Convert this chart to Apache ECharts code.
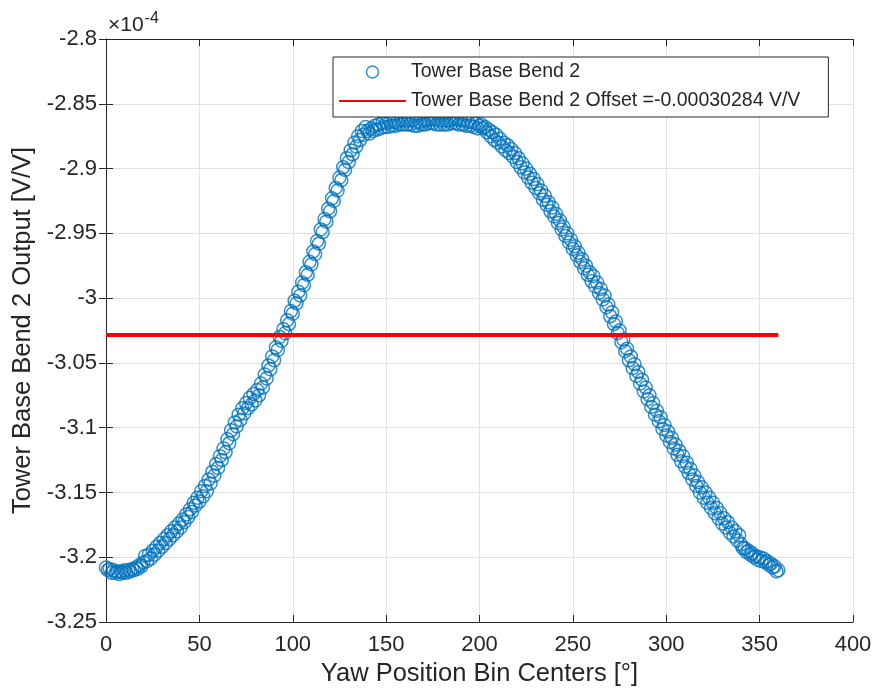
<!DOCTYPE html>
<html lang="en">
<head>
    <meta charset="UTF-8">
    <title>Tower Base Bend 2</title>
    <script src="https://cdn.jsdelivr.net/npm/echarts@6/dist/echarts.min.js"></script>
    <style>
        html, body { margin: 0; padding: 0; background: #fff; }
        #chart { width: 877px; height: 695px; }
    </style>
</head>
<body>
    <div id="chart"></div>
    <script>
        // yaw bin centers [deg], even bins
        const binsA = [
            0, 2, 4, 6, 8, 10, 12, 14, 16, 18,
            20, 22, 24, 26, 28, 30, 32, 34, 36, 38,
            40, 42, 44, 46, 48, 50, 52, 54, 56, 58,
            60, 62, 64, 66, 68, 70, 72, 74, 76, 78,
            80, 82, 84, 86, 88, 90, 92, 94, 96, 98,
            100, 102, 104, 106, 108, 110, 112, 114, 116, 118,
            120, 122, 124, 126, 128, 130, 132, 134, 136, 138,
            140, 142, 144, 146, 148, 150, 152, 154, 156, 158,
            160, 162, 164, 166, 168, 170, 172, 174, 176, 178,
            180, 182, 184, 186, 188, 190, 192, 194, 196, 198,
            200, 202, 204, 206, 208, 210, 212, 214, 216, 218,
            220, 222, 224, 226, 228, 230, 232, 234, 236, 238,
            240, 242, 244, 246, 248, 250, 252, 254, 256, 258,
            260, 262, 264, 266, 268, 270, 272, 274, 276, 278,
            280, 282, 284, 286, 288, 290, 292, 294, 296, 298,
            300, 302, 304, 306, 308, 310, 312, 314, 316, 318,
            320, 322, 324, 326, 328, 330, 332, 334, 336, 338,
            340, 342, 344, 346, 348, 350, 352, 354, 356, 358,
            360
        ];

        // bend 2 output at the even bins, units of 1e-4 V/V
        const outputA = [
            -3.208, -3.209, -3.210, -3.211, -3.211, -3.210, -3.210, -3.209, -3.208, -3.206,
            -3.204, -3.203, -3.201, -3.198, -3.195, -3.192, -3.189, -3.186, -3.183, -3.180,
            -3.177, -3.173, -3.169, -3.165, -3.160, -3.157, -3.153, -3.149, -3.143, -3.137,
            -3.131, -3.125, -3.119, -3.112, -3.105, -3.099, -3.094, -3.089, -3.085, -3.082,
            -3.079, -3.075, -3.069, -3.062, -3.055, -3.048, -3.040, -3.033, -3.027, -3.020,
            -3.012, -3.004, -2.998, -2.990, -2.982, -2.974, -2.966, -2.958, -2.949, -2.941,
            -2.933, -2.925, -2.917, -2.909, -2.901, -2.895, -2.889, -2.883, -2.878, -2.874,
            -2.871, -2.869, -2.867, -2.866, -2.865, -2.865, -2.864, -2.864, -2.864, -2.863,
            -2.863, -2.863, -2.863, -2.864, -2.864, -2.863, -2.863, -2.862, -2.862, -2.863,
            -2.863, -2.863, -2.863, -2.862, -2.862, -2.863, -2.863, -2.864, -2.864, -2.865,
            -2.867, -2.869, -2.872, -2.875, -2.878, -2.880, -2.883, -2.886, -2.888, -2.891,
            -2.895, -2.899, -2.903, -2.907, -2.911, -2.915, -2.919, -2.924, -2.928, -2.933,
            -2.937, -2.942, -2.947, -2.952, -2.957, -2.962, -2.967, -2.972, -2.977, -2.982,
            -2.987, -2.991, -2.996, -3.001, -3.007, -3.014, -3.020, -3.027, -3.034, -3.041,
            -3.048, -3.054, -3.060, -3.066, -3.072, -3.078, -3.084, -3.090, -3.095, -3.101,
            -3.106, -3.111, -3.116, -3.121, -3.126, -3.130, -3.135, -3.140, -3.145, -3.150,
            -3.154, -3.158, -3.162, -3.166, -3.170, -3.174, -3.177, -3.181, -3.184, -3.187,
            -3.190, -3.193, -3.195, -3.197, -3.199, -3.200, -3.201, -3.203, -3.205, -3.207,
            -3.210
        ];

        // odd bins (second row of rings in the band)
        const binsB = [
            1, 3, 5, 7, 9, 11, 13, 15, 17, 19,
            21, 23, 25, 27, 29, 31, 33, 35, 37, 39,
            41, 43, 45, 47, 49, 51, 53, 55, 57, 59,
            61, 63, 65, 67, 69, 71, 73, 75, 77, 79,
            81, 83, 85, 87, 89, 91, 93, 95, 97, 99,
            101, 103, 105, 107, 109, 111, 113, 115, 117, 119,
            121, 123, 125, 127, 129, 131, 133, 135, 137, 139,
            141, 143, 145, 147, 149, 151, 153, 155, 157, 159,
            161, 163, 165, 167, 169, 171, 173, 175, 177, 179,
            181, 183, 185, 187, 189, 191, 193, 195, 197, 199,
            201, 203, 205, 207, 209, 211, 213, 215, 217, 219,
            221, 223, 225, 227, 229, 231, 233, 235, 237, 239,
            241, 243, 245, 247, 249, 251, 253, 255, 257, 259,
            261, 263, 265, 267, 269, 271, 273, 275, 277, 279,
            281, 283, 285, 287, 289, 291, 293, 295, 297, 299,
            301, 303, 305, 307, 309, 311, 313, 315, 317, 319,
            321, 323, 325, 327, 329, 331, 333, 335, 337, 339,
            341, 343, 345, 347, 349, 351, 353, 355, 357, 359
        ];

        const outputB = [
            -3.210, -3.212, -3.212, -3.213, -3.212, -3.212, -3.211, -3.210, -3.209, -3.207,
            -3.199, -3.198, -3.195, -3.192, -3.189, -3.186, -3.183, -3.180, -3.177, -3.174,
            -3.171, -3.167, -3.163, -3.158, -3.154, -3.149, -3.145, -3.140, -3.134, -3.128,
            -3.122, -3.116, -3.109, -3.102, -3.096, -3.090, -3.085, -3.081, -3.077, -3.074,
            -3.071, -3.066, -3.059, -3.052, -3.045, -3.038, -3.030, -3.024, -3.017, -3.010,
            -3.002, -2.995, -2.988, -2.980, -2.972, -2.964, -2.956, -2.947, -2.939, -2.931,
            -2.923, -2.915, -2.907, -2.899, -2.892, -2.886, -2.880, -2.875, -2.871, -2.868,
            -2.873, -2.871, -2.870, -2.869, -2.868, -2.868, -2.867, -2.867, -2.866, -2.866,
            -2.866, -2.866, -2.867, -2.867, -2.866, -2.866, -2.865, -2.865, -2.866, -2.866,
            -2.866, -2.866, -2.865, -2.865, -2.866, -2.866, -2.867, -2.867, -2.868, -2.869,
            -2.866, -2.868, -2.870, -2.872, -2.874, -2.877, -2.880, -2.882, -2.885, -2.888,
            -2.892, -2.896, -2.900, -2.904, -2.908, -2.912, -2.917, -2.921, -2.926, -2.930,
            -2.935, -2.940, -2.945, -2.950, -2.955, -2.960, -2.965, -2.970, -2.975, -2.980,
            -2.983, -2.988, -2.993, -2.998, -3.005, -3.011, -3.018, -3.025, -3.032, -3.039,
            -3.045, -3.051, -3.057, -3.063, -3.069, -3.075, -3.081, -3.087, -3.092, -3.098,
            -3.103, -3.108, -3.113, -3.118, -3.122, -3.127, -3.132, -3.137, -3.142, -3.146,
            -3.150, -3.154, -3.158, -3.162, -3.166, -3.170, -3.173, -3.177, -3.180, -3.183,
            -3.193, -3.196, -3.198, -3.200, -3.202, -3.203, -3.204, -3.206, -3.208, -3.211
        ];

        // offset line (1e-4 V/V)
        const offsetValue = -3.0284;
        const offsetRange = [0, 360];

        const xTicks = { min: 0, max: 400, interval: 50 };
        const yTicks = { min: -3.25, max: -2.8, interval: 0.05 };

        const font = "'Liberation Sans', Arial, Helvetica, sans-serif";
        const axisColor = '#262626';
        const markerBlue = '#0072BD';

        const chart = echarts.init(document.getElementById('chart'));

        const scatterData = binsA.map((x, i) => [x, outputA[i]])
            .concat(binsB.map((x, i) => [x, outputB[i]]));

        const boxAxis = {
            type: 'value',
            axisLine: { show: true, lineStyle: { color: axisColor, width: 1 } },
            axisTick: { show: true, inside: true, length: 7, lineStyle: { color: axisColor } },
            axisLabel: { show: false },
            splitLine: { show: false }
        };

        const option = {
            animation: false,
            backgroundColor: '#fff',
            grid: { left: 106, right: 24, top: 39, bottom: 73 },
            graphic: [{
                type: 'text',
                left: 108,
                top: 11,
                style: {
                    text: '{a|×10}{b|-4}',
                    rich: {
                        a: { fontFamily: font, fontSize: 21, fill: axisColor, verticalAlign: 'bottom' },
                        b: { fontFamily: font, fontSize: 16, fill: axisColor, verticalAlign: 'top', padding: [0, 0, 9, 1] }
                    }
                }
            }],
            legend: {
                orient: 'vertical',
                left: 333,
                top: 57,
                padding: [5, 28, 6, 5],
                itemGap: 9,
                itemWidth: 67,
                itemHeight: 12,
                backgroundColor: '#fff',
                borderColor: axisColor,
                borderWidth: 1,
                textStyle: { fontFamily: font, fontSize: 19.5, color: axisColor, lineHeight: 20 },
                data: [
                    {
                        name: 'Tower Base Bend 2',
                        icon: 'circle',
                        itemStyle: { color: 'rgba(0,0,0,0)', borderColor: markerBlue, borderWidth: 1.5 }
                    },
                    {
                        name: 'Tower Base Bend 2 Offset =-0.00030284 V/V',
                        itemStyle: { opacity: 0 }
                    }
                ]
            },
            xAxis: [
                {
                    type: 'value',
                    min: xTicks.min,
                    max: xTicks.max,
                    interval: xTicks.interval,
                    name: 'Yaw Position Bin Centers [°]',
                    nameLocation: 'middle',
                    nameGap: 39,
                    nameTextStyle: { fontFamily: font, fontSize: 25.5, color: axisColor },
                    axisLine: { show: true, lineStyle: { color: axisColor, width: 1 } },
                    axisTick: { show: true, inside: true, length: 7, lineStyle: { color: axisColor } },
                    axisLabel: { fontFamily: font, fontSize: 22, color: axisColor, margin: 12 },
                    splitLine: { show: true, lineStyle: { color: '#e1e1e1', width: 1 } }
                },
                Object.assign({}, boxAxis, { position: 'top', min: xTicks.min, max: xTicks.max, interval: xTicks.interval })
            ],
            yAxis: [
                {
                    type: 'value',
                    min: yTicks.min,
                    max: yTicks.max,
                    interval: yTicks.interval,
                    name: 'Tower Base Bend 2 Output [V/V]',
                    nameLocation: 'middle',
                    nameGap: 67,
                    nameTextStyle: { fontFamily: font, fontSize: 25.5, color: axisColor },
                    axisLine: { show: true, lineStyle: { color: axisColor, width: 1 } },
                    axisTick: { show: true, inside: true, length: 7, lineStyle: { color: axisColor } },
                    axisLabel: {
                        fontFamily: font, fontSize: 22, color: axisColor, margin: 9,
                        formatter: v => String(+v.toFixed(2))
                    },
                    splitLine: { show: true, lineStyle: { color: '#e1e1e1', width: 1 } }
                },
                Object.assign({}, boxAxis, { position: 'right', min: yTicks.min, max: yTicks.max, interval: yTicks.interval })
            ],
            series: [
                {
                    name: 'Tower Base Bend 2',
                    type: 'scatter',
                    symbol: 'circle',
                    symbolSize: 13,
                    data: scatterData,
                    itemStyle: { color: 'rgba(0,0,0,0)', borderColor: markerBlue, borderWidth: 1.5 }
                },
                {
                    name: 'Tower Base Bend 2 Offset =-0.00030284 V/V',
                    type: 'line',
                    symbol: 'none',
                    data: offsetRange.map(x => [x, offsetValue]),
                    lineStyle: { color: '#ff0000', width: 4 },
                    itemStyle: { color: '#ff0000' }
                }
            ]
        };

        chart.setOption(option);
    </script>
</body>
</html>
